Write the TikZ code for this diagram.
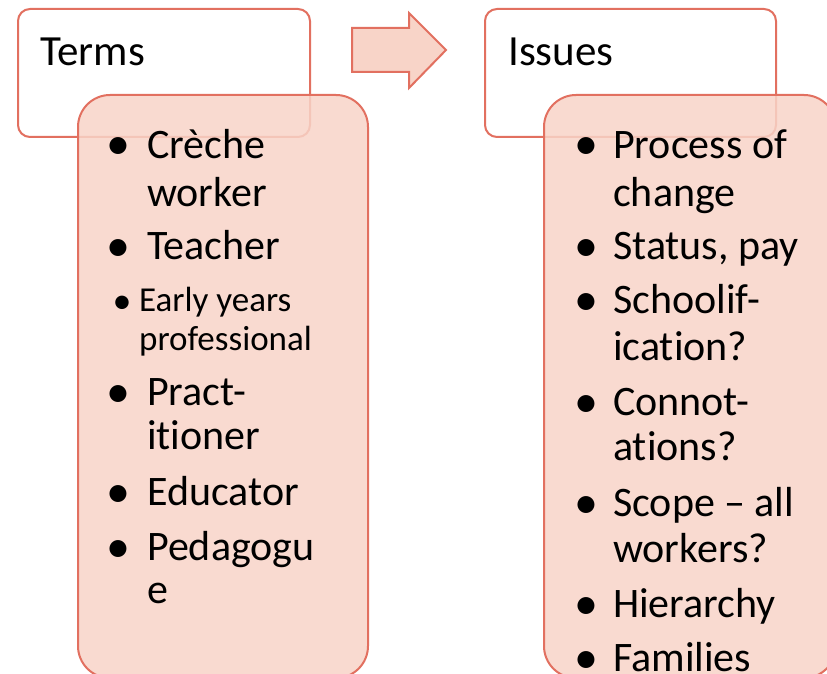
\documentclass[tikz,border=0pt]{standalone}
\usepackage{fontspec}
\setmainfont[Ligatures=NoCommon]{Carlito}
\definecolor{edge}{RGB}{226,112,96}
\definecolor{pinkfill}{RGB}{248,212,200}
\begin{document}
\begin{tikzpicture}[x=1pt,y=-1pt,
  titlebox/.style={draw=edge,line width=2pt,fill=white,rounded corners=12pt},
  listbox/.style={draw=edge,line width=2pt,fill=pinkfill,fill opacity=0.85,draw opacity=1,rounded corners=32pt},
  bigarrow/.style={draw=edge,line width=2pt,fill=pinkfill,line join=miter},
  title/.style={anchor=base west,inner sep=0pt,font=\fontsize{43}{50}\selectfont},
  item/.style={anchor=base west,inner sep=0pt,font=\fontsize{42}{50}\selectfont},
  smallitem/.style={anchor=base west,inner sep=0pt,font=\fontsize{35}{40}\selectfont},
  bul/.style={anchor=base,inner sep=0pt,font=\fontsize{48}{50}\selectfont},
  smallbul/.style={anchor=base,inner sep=0pt,font=\fontsize{38}{40}\selectfont}]
\clip (0,0) rectangle (827,674);
\fill[white] (0,0) rectangle (827,674);
% left group
\draw[titlebox] (18,9) rectangle (310,137);
\node[title] (terms) at (40,66) {Terms};
\draw[listbox] (78,95) rectangle (368,678);
\node[bul] (lb1) at (118,160) {•};
\node[item] (l1a) at (147,158) {Crèche};
\node[item] (l1b) at (147,206) {worker};
\node[bul] (lb2) at (118,261) {•};
\node[item] (l2) at (147,259) {Teacher};
\node[smallbul] (lb3) at (122,313) {•};
\node[smallitem] (l3a) at (139,311) {Early years};
\node[smallitem] (l3b) at (139,350) {professional};
\node[bul] (lb4) at (118,407) {•};
\node[item] (l4a) at (147,405) {Pract-};
\node[item] (l4b) at (147,449) {itioner};
\node[bul] (lb5) at (118,507) {•};
\node[item] (l5) at (147,505) {Educator};
\node[bul] (lb6) at (118,562) {•};
\node[item] (l6a) at (147,560) {Pedagogu};
\node[item] (l6b) at (147,603) {e};
% arrow
\draw[bigarrow] (352,28) -- (409,28) -- (409,13) -- (446,50) -- (409,88) -- (409,72) -- (352,72) -- cycle;
% right group
\draw[titlebox] (485,9) rectangle (776,137);
\node[title] (issues) at (508,66) {Issues};
\draw[listbox] (544,95) rectangle (836,678);
\node[bul] (rb1) at (586,160) {•};
\node[item] (r1a) at (613,158) {Process of};
\node[item] (r1b) at (613,206) {change};
\node[bul] (rb2) at (586,261) {•};
\node[item] (r2) at (613,259) {Status, pay};
\node[bul] (rb3) at (586,315) {•};
\node[item] (r3a) at (613,313) {Schoolif-};
\node[item] (r3b) at (613,360) {ication?};
\node[bul] (rb4) at (586,417) {•};
\node[item] (r4a) at (613,415) {Connot-};
\node[item] (r4b) at (613,460) {ations?};
\node[bul] (rb5) at (586,518) {•};
\node[item] (r5a) at (613,516) {Scope – all};
\node[item] (r5b) at (613,562) {workers?};
\node[bul] (rb6) at (586,619) {•};
\node[item] (r6) at (613,617) {Hierarchy};
\node[bul] (rb7) at (586,673) {•};
\node[item] (r7) at (613,671) {Families};
\end{tikzpicture}
\end{document}
